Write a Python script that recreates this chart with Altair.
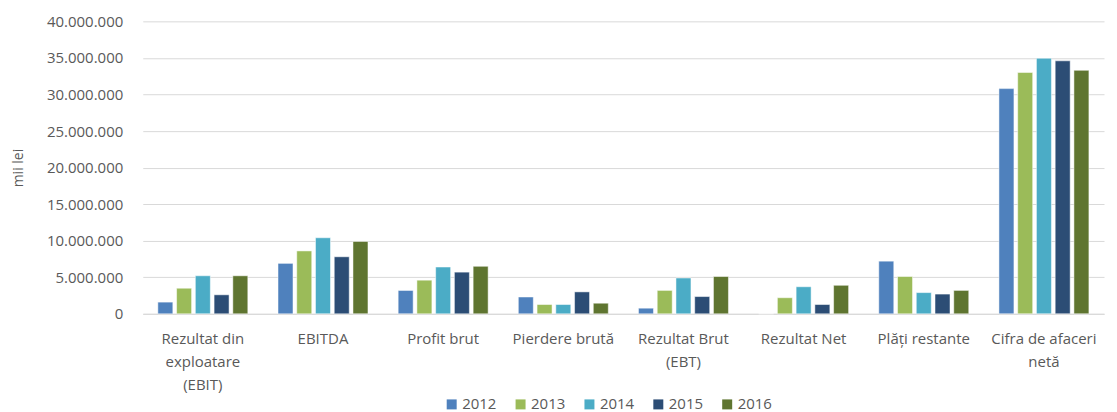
import altair as alt
import pandas as pd

categories = [
    "Rezultat din\nexploatare\n(EBIT)",
    "EBITDA",
    "Profit brut",
    "Pierdere brută",
    "Rezultat Brut\n(EBT)",
    "Rezultat Net",
    "Plăți restante",
    "Cifra de afaceri\nnetă",
]
years = ["2012", "2013", "2014", "2015", "2016"]
colors = ["#4F81BD", "#9BBB59", "#4BACC6", "#2C4D75", "#5F7530"]

v2012 = [1600000, 6900000, 3200000, 2300000, 770000, 0, 7200000, 30800000]
v2013 = [3500000, 8600000, 4600000, 1270000, 3200000, 2200000, 5100000, 33000000]
v2014 = [5200000, 10400000, 6400000, 1270000, 4900000, 3700000, 2900000, 34950000]
v2015 = [2600000, 7800000, 5700000, 3000000, 2360000, 1270000, 2700000, 34600000]
v2016 = [5200000, 9900000, 6500000, 1450000, 5100000, 3900000, 3200000, 33300000]

series = [v2012, v2013, v2014, v2015, v2016]
rows = []
for y, vals in zip(years, series):
    for c, v in zip(categories, vals):
        rows.append({"cat": c, "year": y, "value": v})
df = pd.DataFrame(rows)

font = "Open Sans"
gray = "#595959"

chart = alt.Chart(df).mark_bar(stroke="white", strokeWidth=0.5).encode(
    x=alt.X("cat:N", sort=categories, title=None,
            scale=alt.Scale(paddingInner=0.22, paddingOuter=0.11),
            axis=alt.Axis(labelAngle=0, labelExpr="split(datum.label, '\\n')",
                          labelLineHeight=23, labelPadding=18, ticks=False,
                          domainColor="#d9d9d9", labelColor=gray,
                          labelFontSize=15, labelFont=font, labelLimit=200)),
    xOffset=alt.XOffset("year:N", sort=years,
                        scale=alt.Scale(paddingInner=0.2, paddingOuter=0.1)),
    y=alt.Y("value:Q", title="mii lei",
            scale=alt.Scale(domain=[0, 40000000], nice=False),
            axis=alt.Axis(values=[i * 5000000 for i in range(9)],
                          labelExpr="replace(format(datum.value, ',.0f'), /,/g, '.')",
                          domain=False, ticks=False, gridColor="#d9d9d9",
                          labelColor=gray, labelFontSize=15, labelFont=font,
                          labelPadding=20, titleColor=gray, titleFont=font,
                          titleFontSize=14, titleFontWeight="normal", titlePadding=21)),
    color=alt.Color("year:N", sort=years,
                    scale=alt.Scale(domain=years, range=colors),
                    legend=alt.Legend(orient="none", direction="horizontal", title=None,
                                      legendX=302, legendY=376,
                                      symbolType="square", symbolSize=100,
                                      symbolStrokeWidth=0, labelColor=gray,
                                      labelFontSize=15, labelFont=font,
                                      columnPadding=16, labelOffset=3)),
).properties(width=963, height=293, padding={"top": 6, "left": 3, "right": 5, "bottom": 0})

chart = chart.configure(background="white", view=alt.ViewConfig(stroke=None))

chart.save("out.html", embed_options={"renderer": "svg", "actions": False})
